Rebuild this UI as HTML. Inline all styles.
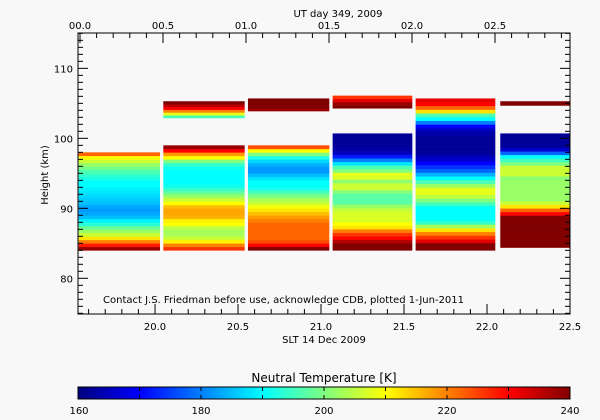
<!DOCTYPE html>
<html><head><meta charset="utf-8"><style>
html,body{margin:0;padding:0;background:#f8f8f8;}
svg{display:block;font-family:"DejaVu Sans","Liberation Sans",sans-serif;}
</style></head><body>
<svg id="chart" width="600" height="420" viewBox="0 0 600 420" xmlns="http://www.w3.org/2000/svg">
<rect x="0" y="0" width="600" height="420" fill="#f8f8f8"/>
<g id="cells"></g>
<g id="axes"></g>
<text x="338" y="17" font-size="10" text-anchor="middle">UT day 349, 2009</text>
<text x="324" y="343" font-size="10" text-anchor="middle">SLT 14 Dec 2009</text>
<text transform="translate(48,175) rotate(-90)" font-size="10" text-anchor="middle">Height (km)</text>
<text x="103" y="303" font-size="10">Contact J.S. Friedman before use, acknowledge CDB, plotted 1-Jun-2011</text>
<text x="324" y="382" font-size="12" text-anchor="middle">Neutral Temperature [K]</text>
<g id="cbar"></g>
</svg>
<script>
// data
const segStartHr = [19.54, 20.05, 20.56, 21.07, 21.57, 22.08, 20.05, 20.56, 21.07, 22.08];
const segEndHr   = [20.03, 20.54, 21.05, 21.55, 22.05, 22.50, 20.54, 21.05, 21.55, 22.50];
const segBottomKm = [84.0, 84.0, 84.0, 84.0, 84.0, 84.4, 102.9, 103.9, 104.3, 104.7];
const segTopKm    = [98.0, 99.0, 99.0, 100.7, 105.7, 100.7, 105.3, 105.7, 106.1, 105.3];
const segTemps = [
 [238,228,220,212,206,202,198,193,189,185,183,182,183,185,186,187,188,189,190,190,192,194,196,199,202,206,210,222],
 [226,220,211,206,203,203,205,210,211,216,217,217,215,210,206,202,198,194,191,190,190,190,190,191,194,200,210,218,230,238],
 [240,230,224,222,222,222,222,222,220,218,215,212,209,206,203,200,196,192,190,190,188,185,182,182,184,187,192,200,210,224],
 [240,240,236,230,226,220,212,210,207,207,207,205,202,197,197,197,200,206,206,201,207,208,200,196,188,180,172,165,163,162,162,162,162],
 [240,240,232,226,220,212,203,194,190,190,190,190,195,200,205,208,208,202,196,190,184,178,174,170,166,164,162,162,162,162,162,163,165,170,180,190,196,212,222,230,232],
 [240,240,240,240,240,240,240,240,240,230,222,212,206,202,202,202,202,202,202,201,206,206,206,200,195,190,178,166,162,162,162,162],
 [196,208,220,230,236,240],
 [238,240,240,240],
 [240,238,232,226],
 [240,240]
];
const sltTicks = [20.0, 20.5, 21.0, 21.5, 22.0, 22.5];
const sltLabels = ["20.0","20.5","21.0","21.5","22.0","22.5"];
const utTicks = [0.0, 0.5, 1.0, 1.5, 2.0, 2.5];
const utLabels = ["00.0","00.5","01.0","01.5","02.0","02.5"];
const yTicks = [80, 90, 100, 110];
const yLabels = ["80","90","100","110"];
const cbTicks = [160, 180, 200, 220, 240];
const cbLabels = ["160","180","200","220","240"];

const L=78,R=570,T=33,B=314;
const xMin=19.536,xMax=22.5,yMin=74.9,yMax=115.05;
const X=h=>L+(h-xMin)/(xMax-xMin)*(R-L);
const Y=k=>B-(k-yMin)/(yMax-yMin)*(B-T);
const utX=u=>80+u*166;
const NS="http://www.w3.org/2000/svg";
function mk(tag,attrs,parent){const e=document.createElementNS(NS,tag);for(const k in attrs)e.setAttribute(k,attrs[k]);parent.appendChild(e);return e;}
function jet(t){let v=(t-160)/80;v=Math.max(0,Math.min(1,v));
 const c=x=>Math.round(255*Math.max(0,Math.min(1,x)));
 const r=c(Math.min(4*v-1.5,-4*v+4.5)),g=c(Math.min(4*v-0.5,-4*v+3.5)),b=c(Math.min(4*v+0.5,-4*v+2.5));
 return `rgb(${r},${g},${b})`;}
const cells=document.getElementById('cells');
segTemps.forEach((arr,i)=>{
 const n=arr.length,h=(segTopKm[i]-segBottomKm[i])/n;
 arr.forEach((t,j)=>{
  const y1=Y(segBottomKm[i]+(j+1)*h),y0=Y(segBottomKm[i]+j*h);
  const r=mk('rect',{x:X(segStartHr[i]),y:y1,width:X(segEndHr[i])-X(segStartHr[i]),height:y0-y1+0.3,fill:jet(t)},cells);
  
  
 });
});
const ax=document.getElementById('axes');
mk('rect',{x:L,y:T,width:R-L,height:B-T,fill:'none',stroke:'#000','stroke-width':1},ax);
for(let k=75;k<=115;k++){const y=Y(k),len=(k%10==0)?10:5;
 mk('line',{x1:L,y1:y,x2:L+len,y2:y,stroke:'#000'},ax);mk('line',{x1:R,y1:y,x2:R-len,y2:y,stroke:'#000'},ax);}
yTicks.forEach((v,i)=>{const t=mk('text',{x:L-5,y:Y(v)+4,'font-size':10,'text-anchor':'end'},ax);t.textContent=yLabels[i];
 
 });
for(let m=196;m<=225;m++){const h=m/10,x=X(h);if(x<L-0.5)continue;const len=(m%5==0)?10:5;
 mk('line',{x1:x,y1:B,x2:x,y2:B-len,stroke:'#000'},ax);}
sltTicks.forEach((v,i)=>{const t=mk('text',{x:X(v),y:330,'font-size':10,'text-anchor':'middle'},ax);t.textContent=sltLabels[i];
 
 });
for(let m=0;m<=29;m++){const x=utX(m/10);if(x>R)continue;const len=(m%5==0)?10:5;
 mk('line',{x1:x,y1:T,x2:x,y2:T+len,stroke:'#000'},ax);}
utTicks.forEach((v,i)=>{const t=mk('text',{x:utX(v),y:29,'font-size':10,'text-anchor':'middle'},ax);t.textContent=utLabels[i];
 
 });
const cb=document.getElementById('cbar');
const cbL=78,cbR=570,cbT=387,cbB=399;
for(let i=0;i<cbR-cbL;i++){mk('rect',{x:cbL+i,y:cbT,width:1.2,height:cbB-cbT,fill:jet(160+80*i/(cbR-cbL))},cb);}
mk('rect',{x:cbL,y:cbT,width:cbR-cbL,height:cbB-cbT,fill:'none',stroke:'#000'},cb);
const cbX=v=>cbL+(v-160)/80*(cbR-cbL);
for(let v=160;v<=240;v+=10){mk('line',{x1:cbX(v),y1:cbB,x2:cbX(v),y2:cbB-4,stroke:'#000'},cb);mk('line',{x1:cbX(v),y1:cbT,x2:cbX(v),y2:cbT+4,stroke:'#000'},cb);}
cbTicks.forEach((v,i)=>{const t=mk('text',{x:cbX(v)-(i==0?-1:0),y:414,'font-size':10,'text-anchor':'middle'},cb);t.textContent=cbLabels[i];
 
 });
</script>
</body></html>
